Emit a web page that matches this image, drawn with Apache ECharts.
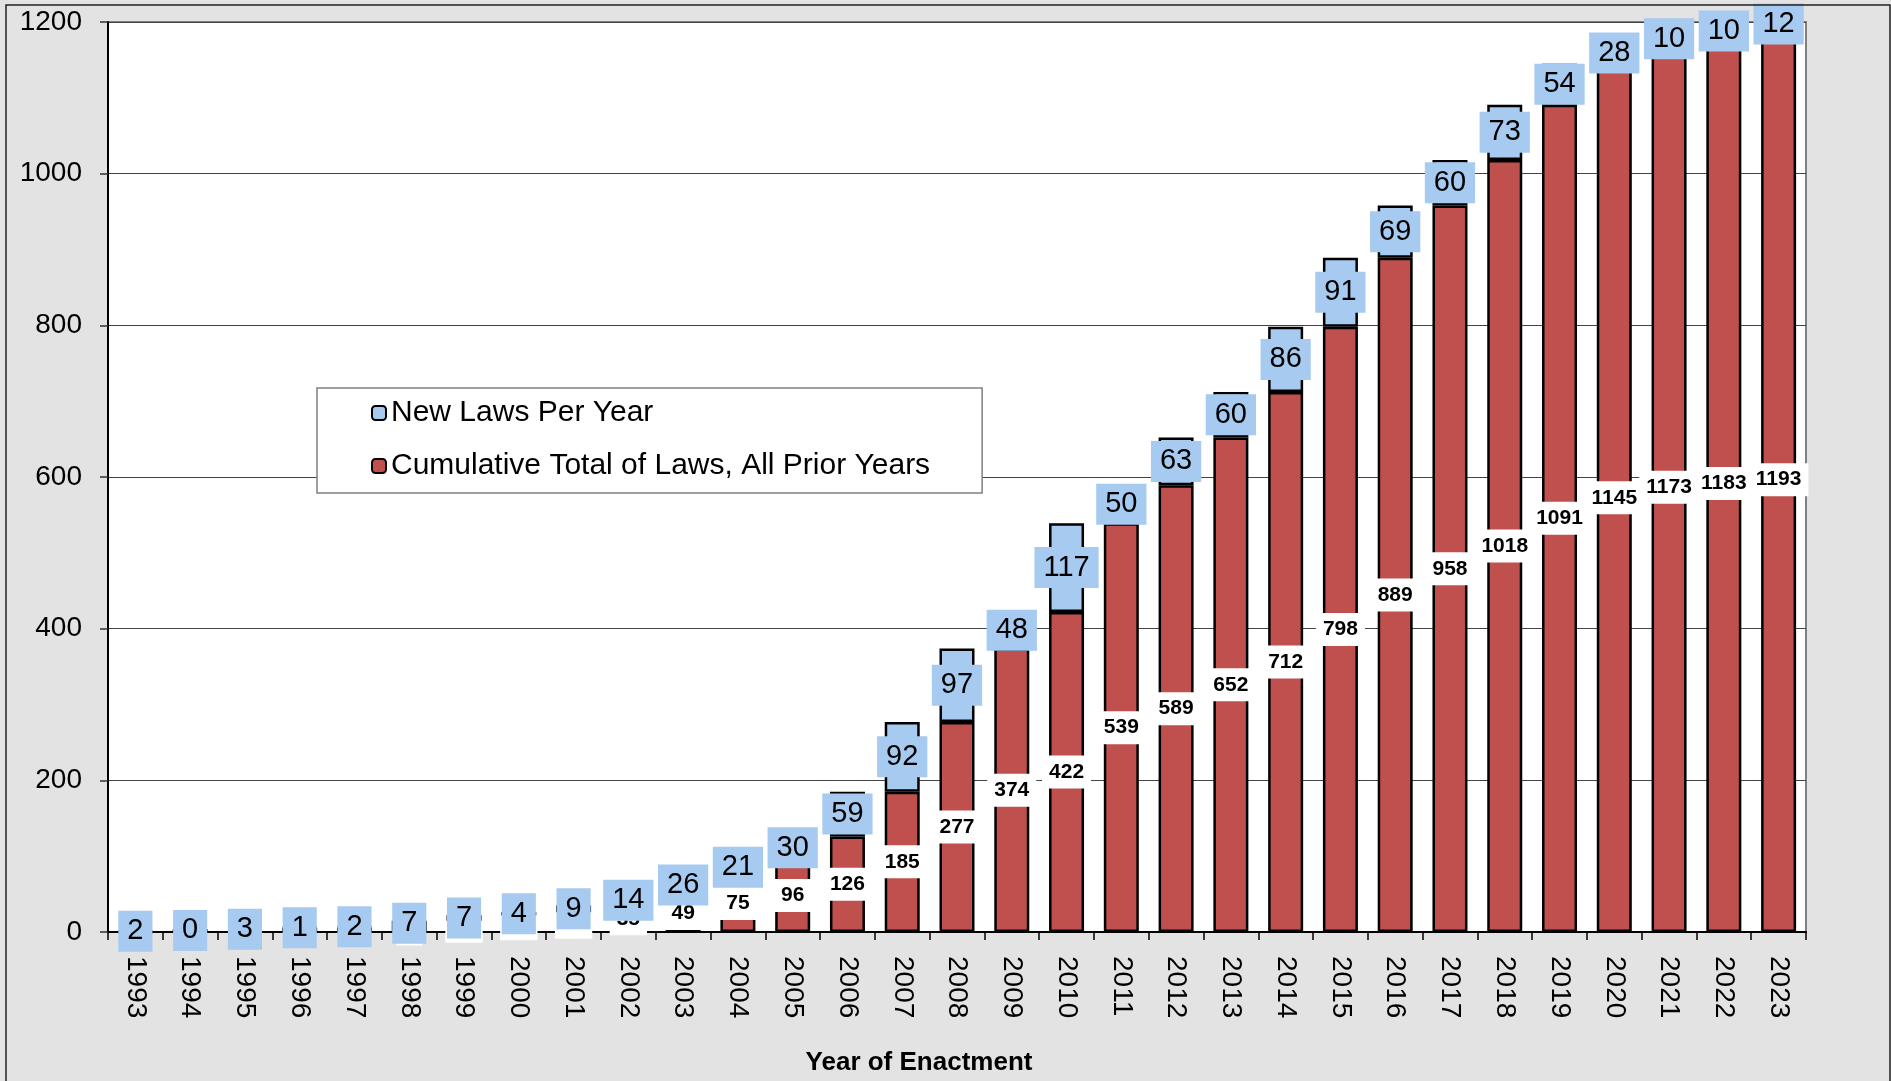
<!DOCTYPE html>
<html>
<head>
<meta charset="utf-8">
<script src="https://cdn.jsdelivr.net/npm/echarts@6/dist/echarts.min.js"></script>
<style>
  html, body { margin: 0; padding: 0; background: #e3e3e3; }
  #chart { width: 1891px; height: 1081px; }
</style>
</head>
<body>
<div id="chart"></div>
<script>
const years = ['1993','1994','1995','1996','1997','1998','1999','2000','2001','2002','2003','2004','2005','2006','2007','2008','2009','2010','2011','2012','2013','2014','2015','2016','2017','2018','2019','2020','2021','2022','2023'];
const newLaws = [2,0,3,1,2,7,7,4,9,14,26,21,30,59,92,97,48,117,50,63,60,86,91,69,60,73,54,28,10,10,12];
const cumulativePrior = [0,2,2,5,6,8,15,22,26,35,49,75,96,126,185,277,374,422,539,589,652,712,798,889,958,1018,1091,1145,1173,1183,1193];
const yTicks = { min: 0, max: 1200, interval: 200 };

const FONT = '"Liberation Sans", Arial, sans-serif';
const chart = echarts.init(document.getElementById('chart'));

chart.setOption({
  backgroundColor: '#e3e3e3',
  animation: false,
  textStyle: { fontFamily: FONT, color: '#000' },
  graphic: [{
    type: 'rect',
    shape: { x: 6, y: 5, width: 1884, height: 1090 },
    style: { fill: 'none', stroke: '#222', lineWidth: 1.5 },
    z: 100, silent: true
  }],
  grid: {
    left: 108, right: 85, top: 22, bottom: 145,
    show: true, backgroundColor: '#ffffff',
    borderColor: '#808080', borderWidth: 2
  },
  legend: {
    left: 317, top: 388,
    orient: 'vertical',
    padding: [10, 52, 12, 54],
    itemGap: 23,
    itemWidth: 14, itemHeight: 14,
    backgroundColor: '#ffffff',
    borderColor: '#808080', borderWidth: 1.5,
    textStyle: { fontSize: 30, fontFamily: FONT, color: '#000' },
    data: ['New Laws Per Year', 'Cumulative Total of Laws, All Prior Years']
  },
  xAxis: {
    type: 'category',
    data: years,
    name: 'Year of Enactment',
    nameLocation: 'middle',
    nameGap: 118,
    nameTextStyle: { fontSize: 26, fontWeight: 'bold', fontFamily: FONT, color: '#000', padding: [0, 76, 0, 0] },
    axisLine: { lineStyle: { color: '#000', width: 2 } },
    axisTick: { show: true, length: 8, lineStyle: { color: '#000', width: 1.5 } },
    axisLabel: { rotate: -90, margin: 24, fontSize: 28, fontFamily: FONT, color: '#000' },
    splitLine: { show: false }
  },
  yAxis: {
    type: 'value',
    min: yTicks.min, max: yTicks.max, interval: yTicks.interval,
    axisLine: { show: true, lineStyle: { color: '#000', width: 2 } },
    axisTick: { show: true, length: 8, lineStyle: { color: '#333', width: 1.5 } },
    axisLabel: { margin: 26, fontSize: 28, fontFamily: FONT, color: '#000', formatter: v => String(v) },
    splitLine: { show: true, lineStyle: { color: '#444', width: 1.2 } }
  },
  series: [
    {
      name: 'Cumulative Total of Laws, All Prior Years',
      type: 'bar',
      stack: 'total',
      barWidth: 35,
      data: cumulativePrior,
      itemStyle: { color: '#c0504d', borderColor: '#000', borderWidth: 2.5 },
      label: {
        show: true, position: 'inside',
        fontSize: 21, fontWeight: 'bold', fontFamily: FONT, color: '#000',
        backgroundColor: '#ffffff', padding: [6, 7]
      },
      z: 2
    },
    {
      name: 'New Laws Per Year',
      type: 'bar',
      stack: 'total',
      barWidth: 35,
      data: newLaws,
      itemStyle: { color: '#a6caf0', borderColor: '#000', borderWidth: 2.5 },
      label: {
        show: true, position: 'inside',
        fontSize: 29, fontFamily: FONT, color: '#000',
        backgroundColor: '#a6caf0', padding: [6, 9]
      },
      z: 3
    }
  ]
});
</script>
</body>
</html>
